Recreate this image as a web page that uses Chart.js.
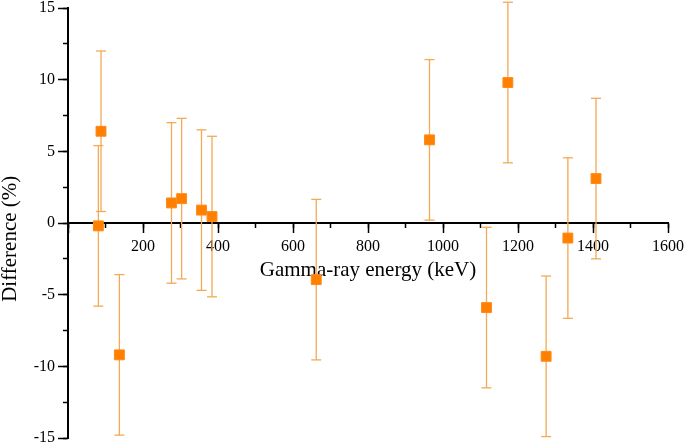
<!DOCTYPE html>
<html>
<head>
<meta charset="utf-8">
<script src="https://cdn.jsdelivr.net/npm/chart.js@4"></script>
<style>
  html, body { margin: 0; padding: 0; background: #fff; }
  #wrap { width: 685px; height: 447px; }
</style>
</head>
<body>
<div id="wrap"><canvas id="diff-chart"></canvas></div>
<script>
// values
const energies = [81, 88, 137, 276, 303, 356, 384, 662, 964, 1116, 1173, 1275, 1333, 1408];
const differences = [-0.2, 6.4, -9.2, 1.4, 1.7, 0.9, 0.45, -3.95, 5.8, -5.9, 9.8, -9.3, -1.05, 3.1];
const uncertainties = [5.6, 5.6, 5.6, 5.6, 5.6, 5.6, 5.6, 5.6, 5.6, 5.6, 5.6, 5.6, 5.6, 5.6];

const xRange = [0, 1600];
const yRange = [-15, 15];

const serif = "'Liberation Serif', 'Times New Roman', serif";

// markers
const points = energies.map((e, i) => ({ x: e, y: differences[i] }));

// error bars: low/high pairs split by a null so the line breaks between bars
const bars = [];
energies.forEach((e, i) => {
  bars.push({ x: e, y: differences[i] - uncertainties[i] });
  bars.push({ x: e, y: differences[i] + uncertainties[i] });
  bars.push({ x: e, y: null });
});

const noSize = (s) => { s.height = 0; s.paddingLeft = 0; s.paddingRight = 0; };

const config = {
  type: 'scatter',
  data: {
    datasets: [
      {
        label: 'error',
        data: bars,
        showLine: true,
        spanGaps: false,
        borderColor: '#F2AA55',
        borderWidth: 1.3,
        pointStyle: 'line',
        pointRadius: 5,
        pointBorderWidth: 1.3,
        pointBorderColor: '#F2AA55',
        clip: false,
        order: 2
      },
      {
        label: 'Difference',
        data: points,
        pointStyle: 'rect',
        pointRadius: 7,
        backgroundColor: '#FF8000',
        borderColor: '#FF8A1A',
        borderWidth: 1,
        clip: false,
        order: 1
      }
    ]
  },
  options: {
    responsive: true,
    maintainAspectRatio: false,
    animation: false,
    events: [],
    layout: { padding: { top: 7, right: 17, bottom: 9, left: 0 } },
    plugins: {
      legend: { display: false },
      tooltip: { enabled: false }
    },
    scales: {
      x: {
        type: 'linear',
        position: { y: 0 },
        min: xRange[0],
        max: xRange[1],
        afterFit: noSize,
        ticks: {
          stepSize: 200,
          padding: 5,
          maxRotation: 0,
          color: '#000',
          font: { family: serif, size: 16 },
          callback: (v) => (v === 0 ? '' : v)
        },
        grid: { drawOnChartArea: false, tickLength: 9, tickWidth: 1.5, tickColor: '#000' },
        border: { display: true, color: '#000', width: 2 },
        title: {
          display: true,
          text: 'Gamma-ray energy (keV)',
          color: '#000',
          font: { family: serif, size: 21 },
          padding: { top: 0, bottom: -60 }
        }
      },
      xMinor: {
        type: 'linear',
        position: { y: 0 },
        min: xRange[0],
        max: xRange[1],
        afterFit: noSize,
        ticks: { stepSize: 100, display: false },
        grid: { drawOnChartArea: false, tickLength: 5, tickWidth: 1.5, tickColor: '#000' },
        border: { display: false }
      },
      y: {
        type: 'linear',
        position: 'left',
        min: yRange[0],
        max: yRange[1],
        afterFit: (s) => { s.width = 68; s.paddingTop = 0; s.paddingBottom = 0; },
        ticks: {
          stepSize: 5,
          padding: 3,
          color: '#000',
          font: { family: serif, size: 16 }
        },
        grid: { drawOnChartArea: false, tickLength: 10, tickWidth: 1.5, tickColor: '#000' },
        border: { display: true, color: '#000', width: 2 },
        title: {
          display: true,
          // trailing spaces nudge the rotated title down, as in the original
          text: 'Difference (%)      ',
          color: '#000',
          font: { family: serif, size: 21 },
          padding: { top: -2, bottom: 0 }
        }
      },
      yMinor: {
        type: 'linear',
        position: { x: 0 },
        min: yRange[0],
        max: yRange[1],
        afterFit: (s) => { s.width = 0; s.paddingTop = 0; s.paddingBottom = 0; },
        ticks: { stepSize: 2.5, display: false },
        grid: { drawOnChartArea: false, tickLength: 5, tickWidth: 1.5, tickColor: '#000' },
        border: { display: false }
      }
    }
  }
};

window.addEventListener('load', () => {
  new Chart(document.getElementById('diff-chart'), config);
});
</script>
</body>
</html>
